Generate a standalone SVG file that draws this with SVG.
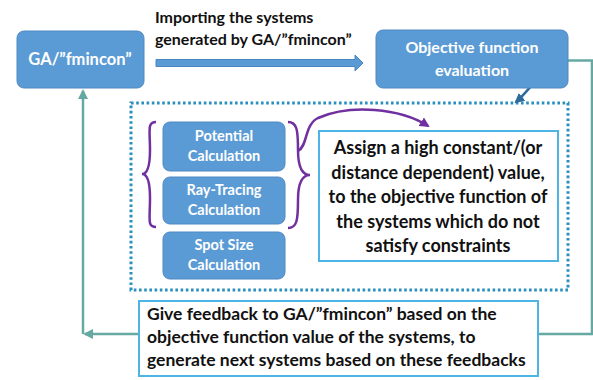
<svg xmlns="http://www.w3.org/2000/svg" width="593" height="380" viewBox="0 0 593 380">
  <style>
    .node { fill: #5b9bd5; stroke: #4f89c2; stroke-width: 1; }
    .ntext { font-family: Lato, "Liberation Sans", sans-serif; font-weight: bold; fill: #ffffff; text-anchor: middle; }
    .btext { font-family: Lato, "Liberation Sans", sans-serif; font-weight: bold; fill: #111111; }
    .note { fill: #ffffff; stroke: #4cb5e6; stroke-width: 2; }
    .teal { fill: none; stroke: #66a9a2; stroke-width: 2.5; }
    .brace { fill: none; stroke: #7030a0; stroke-width: 2.5; }
  </style>
  <defs>
    <marker id="tealHead" viewBox="0 0 10 10" refX="8" refY="5" markerWidth="4" markerHeight="4" orient="auto">
      <path d="M0,0 L10,5 L0,10 Z" fill="#66a9a2"/>
    </marker>
    <marker id="purpleHead" viewBox="0 0 10 10" refX="8" refY="5" markerWidth="4" markerHeight="4" orient="auto">
      <path d="M0,0 L10,5 L0,10 Z" fill="#7030a0"/>
    </marker>
    <marker id="navyHead" viewBox="0 0 10 10" refX="8" refY="5" markerWidth="4" markerHeight="4" orient="auto">
      <path d="M0,0 L10,5 L0,10 Z" fill="#2e6a9a"/>
    </marker>
  </defs>

  <!-- dotted container around the evaluation steps -->
  <rect id="evaluation-frame" x="131" y="103" width="437" height="187" fill="none" stroke="#2a8fbf" stroke-width="3" stroke-dasharray="2.6 2.6"/>

  <g id="connectors">
    <!-- import arrow (block arrow) -->
    <path d="M156,59.5 H355 V55 L363,63 L355,71 V66.5 H156 Z" fill="#5b9bd5" stroke="#4a86c0" stroke-width="1"/>
    <!-- objective evaluation back to the feedback box -->
    <path class="teal" d="M447,60.5 H592 V334 H538"/>
    <!-- feedback box to the left -->
    <path class="teal" d="M140,334 H85" marker-end="url(#tealHead)"/>
    <!-- up to GA -->
    <path class="teal" d="M83,334 V91" marker-end="url(#tealHead)"/>
    <!-- objective box into the dotted frame -->
    <path d="M552,73 C535,76 530,90 516,102" fill="none" stroke="#2e6a9a" stroke-width="2.5" marker-end="url(#navyHead)"/>
    <!-- braces to the constraint note -->
    <path class="brace" d="M298,151 C308,146 304,125 318,118 C350,104 400,108 428,126" marker-end="url(#purpleHead)"/>
  </g>

  <g id="ga">
    <rect class="node" x="17" y="31" width="127" height="57" rx="7"/>
    <text class="ntext" x="80" y="65" font-size="16.5">GA/”fmincon”</text>
  </g>

  <g id="import-label">
    <text class="btext" x="155" y="23" font-size="16">Importing the systems</text>
    <text class="btext" x="155" y="45" font-size="16">generated by GA/”fmincon”</text>
  </g>

  <g id="objective">
    <rect class="node" x="376" y="30" width="192" height="58" rx="7"/>
    <text class="ntext" x="472" y="53" font-size="16">Objective function</text>
    <text class="ntext" x="472" y="76" font-size="16">evaluation</text>
  </g>

  <g id="potential">
    <rect class="node" x="163" y="122" width="122" height="49" rx="7"/>
    <text class="ntext" x="224" y="141" font-size="14.5">Potential</text>
    <text class="ntext" x="224" y="161" font-size="14.5">Calculation</text>
  </g>

  <g id="ray-tracing">
    <rect class="node" x="163" y="177" width="122" height="47" rx="7"/>
    <text class="ntext" x="224" y="195" font-size="14.5">Ray-Tracing</text>
    <text class="ntext" x="224" y="215" font-size="14.5">Calculation</text>
  </g>

  <g id="spot-size">
    <rect class="node" x="163" y="232" width="122" height="47" rx="7"/>
    <text class="ntext" x="224" y="250" font-size="14.5">Spot Size</text>
    <text class="ntext" x="224" y="270" font-size="14.5">Calculation</text>
  </g>

  <g id="braces">
    <path class="brace" d="M156,122 C147,122 150,130 150,150 C150,168 147,174 142,174 C147,174 150,180 150,198 C150,220 147,227 156,227"/>
    <path class="brace" d="M288,122 C297,122 298,130 298,150 C298,168 302,175 310,175 C302,175 298,182 298,200 C298,220 297,228 288,228"/>
  </g>

  <g id="constraint-note">
    <rect class="note" x="319" y="131" width="239" height="130"/>
    <g class="btext" font-size="18" text-anchor="middle">
      <text x="438" y="154">Assign a high constant/(or</text>
      <text x="438" y="178.5">distance dependent) value,</text>
      <text x="438" y="203">to the objective function of</text>
      <text x="438" y="227.5">the systems which do not</text>
      <text x="438" y="252">satisfy constraints</text>
    </g>
  </g>

  <g id="feedback">
    <rect class="note" x="139" y="301" width="399" height="75"/>
    <g class="btext" font-size="17.5">
      <text x="147" y="320">Give feedback to GA/”fmincon” based on the</text>
      <text x="147" y="343">objective function value of the systems, to</text>
      <text x="147" y="366">generate next systems based on these feedbacks</text>
    </g>
  </g>
</svg>
